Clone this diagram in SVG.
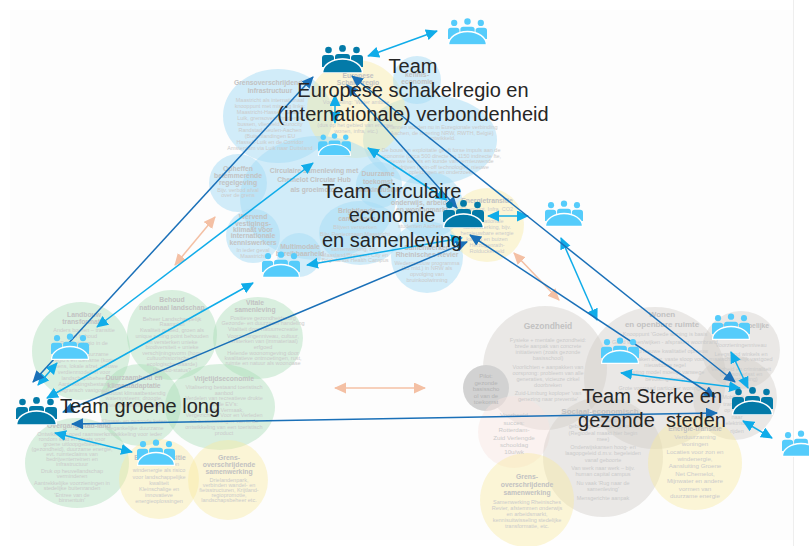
<svg xmlns="http://www.w3.org/2000/svg" width="809" height="546" viewBox="0 0 809 546">
<style>
text{font-family:"Liberation Sans",Arial,sans-serif;text-anchor:middle}
.b{fill:#a5dcf6;fill-opacity:.5}
.g{fill:#a8dcb5;fill-opacity:.42}
.y{fill:#f7e9a0;fill-opacity:.42}
.s{fill:#cfcac5;fill-opacity:.42}
.p{fill:#f9e4df;fill-opacity:.45}
.t{font-size:6.800px;font-weight:bold;fill:#c2c2c2}
.d{font-size:5.500px;fill:#cbcbcb}
.h{font-size:20px;fill:#262626}
.la{fill:none;stroke:#10ace9;stroke-width:1.5;marker-start:url(#al);marker-end:url(#al)}
.da{fill:none;stroke:#1a70b8;stroke-width:1.5;marker-start:url(#ad);marker-end:url(#ad)}
.oa{fill:none;stroke:#f4c0a4;stroke-width:1.5;marker-start:url(#ao);marker-end:url(#ao)}
.dk{fill:#037aa8}
.lt{fill:#55ccfb}
</style>
<defs>
<marker id="al" markerUnits="userSpaceOnUse" markerWidth="14" markerHeight="12" refX="11" refY="5.500" orient="auto-start-reverse"><path d="M0 0L12 5.500L0 11z" fill="#10ace9"/></marker>
<marker id="ad" markerUnits="userSpaceOnUse" markerWidth="14" markerHeight="12" refX="11" refY="5.500" orient="auto-start-reverse"><path d="M0 0L12 5.500L0 11z" fill="#1a70b8"/></marker>
<marker id="ao" markerUnits="userSpaceOnUse" markerWidth="14" markerHeight="12" refX="11" refY="5.500" orient="auto-start-reverse"><path d="M0 0L12 5.500L0 11z" fill="#f4c0a4"/></marker>
<symbol id="team" viewBox="0 0 41 28">
<circle cx="6.500" cy="5" r="3.300"/><circle cx="20.500" cy="3.400" r="3.400"/><circle cx="34.500" cy="5" r="3.300"/>
<path d="M0 22V13q0-3 3-3h6q3 0 3 3v3L3 22z"/>
<path d="M41 22V13q0-3-3-3h-6q-3 0-3 3v3l9 6z"/>
<path d="M13 15v-3q0-3 3-3h9q3 0 3 3v3q-7-3-15 0z"/>
<path d="M0.500 28A20 14 0 0 1 40.500 28z" stroke="#fff" stroke-width="1.400"/>
</symbol>
</defs>
<rect x="10" y="10" width="783" height="530" fill="#fdfdfd"/>
<path d="M793.500 0V546" stroke="#eee" fill="none"/>

<g id="regio-noord">
<ellipse class="b" cx="278" cy="116" rx="55" ry="47"/>
<ellipse class="b" cx="430" cy="140" rx="67" ry="45"/>
<circle class="y" cx="356" cy="109" r="49"/>
<circle class="b" cx="417" cy="80" r="24"/>
<circle class="b" cx="238" cy="183" r="29"/>
<ellipse class="b" cx="318" cy="198" rx="78" ry="62"/>
<circle class="b" cx="253" cy="236" r="27"/>
<circle class="b" cx="299" cy="255" r="22"/>
<circle class="b" cx="379" cy="185" r="23"/>
<ellipse class="b" cx="360" cy="233" rx="41" ry="32"/>
<circle class="b" cx="430" cy="205" r="33"/>
<circle class="b" cx="427" cy="257" r="36"/>
<circle class="y" cx="487" cy="225" r="37"/>
<text class="t"><tspan x="270" y="85">Grensoverschrijdende</tspan><tspan x="270" y="93">infrastructuur</tspan></text>
<text class="d"><tspan x="270" y="102">Maastricht als internationaal</tspan><tspan x="270" y="108">knooppunt met missing links:</tspan><tspan x="270" y="114">Maastricht-Hasselt, Sittard-</tspan><tspan x="270" y="120">Luik, grensoverschrijdende</tspan><tspan x="270" y="126">bussen, vliegveld, Eurocity</tspan><tspan x="270" y="132">Randstad-Keulen-Aachen</tspan><tspan x="270" y="138">(Buitenlandingen EU</tspan><tspan x="270" y="144">Hasselt-Luik en de Corridor</tspan><tspan x="270" y="150">Amsterdam via Luik naar Duitsland</tspan></text>
<text class="t"><tspan x="358" y="78">Europese</tspan><tspan x="358" y="85">Schakelregio</tspan></text>
<text class="d"><tspan x="356" y="104">Voorstelling: 'Water ambitie</tspan><tspan x="356" y="127">(dus op het gebied van energie,</tspan><tspan x="356" y="133">wonen, infra, etc.)</tspan></text>
<text class="t"><tspan x="417" y="77">kennis-</tspan><tspan x="417" y="84">economie</tspan></text>
<text class="d"><tspan x="442" y="129">Plannen worden nu in Euregionale verbinding</tspan><tspan x="442" y="135">Aachen, de regering NRW, RWTH, België)</tspan><tspan x="442" y="140">ontwikkeld.</tspan><tspan x="441" y="152">De bouw en exploitatie geeft forse impuls aan de</tspan><tspan x="441" y="158">economie (circa 500 directe en 1150 indirecte fte,</tspan><tspan x="441" y="163">nieuwe kennis en kunde van vernieuwende</tspan><tspan x="441" y="169">bedrijven (spin-off technologie), nieuwe</tspan><tspan x="441" y="174">opleidingen en onderzoek.</tspan></text>
<text class="t"><tspan x="314" y="173">Circulaire samenleving met</tspan><tspan x="314" y="182">Chemelot Circular Hub</tspan><tspan x="314" y="192">als groeimotor</tspan></text>
<text class="t"><tspan x="238" y="171">Opheffen</tspan><tspan x="238" y="178">belemmerende</tspan><tspan x="238" y="185">regelgeving</tspan></text>
<text class="d"><tspan x="238" y="192">Bijv. verbod afval</tspan><tspan x="238" y="197">over de grens</tspan></text>
<text class="t"><tspan x="253" y="219">Wervend</tspan><tspan x="253" y="226">vestigings-</tspan><tspan x="253" y="232">klimaat voor</tspan><tspan x="253" y="238">internationale</tspan><tspan x="253" y="245">kenniswerkers</tspan></text>
<text class="d"><tspan x="253" y="252">In ieder geval</tspan><tspan x="253" y="258">Maastricht</tspan></text>
<text class="t"><tspan x="300" y="249">Multimodale</tspan><tspan x="300" y="256">bereikbaarheid</tspan></text>
<text class="t"><tspan x="378" y="176">Duurzame</tspan><tspan x="378" y="184">toekomst</tspan><tspan x="378" y="192">maakindustrie</tspan></text>
<text class="t"><tspan x="357" y="213">Brightlands</tspan><tspan x="357" y="221">campussen</tspan></text>
<text class="d"><tspan x="355" y="229">Blijven versterken</tspan><tspan x="355" y="236">Bijv. Regieorgaan Maastricht</tspan><tspan x="355" y="251">samenwerking, bijv.</tspan><tspan x="355" y="257">Maasland/Brainport City en</tspan><tspan x="355" y="262">Brightlands Health Campus</tspan></text>
<text class="t"><tspan x="422" y="205">onderwijs, arbeids-</tspan><tspan x="422" y="212">en woningmarkt</tspan></text>
<text class="d"><tspan x="420" y="228">studenten Aachen</tspan></text>
<text class="t"><tspan x="427" y="250">Samenwerken</tspan><tspan x="427" y="257">Rheinisches Revier</tspan></text>
<text class="d"><tspan x="427" y="265">Wederopbouw programma</tspan><tspan x="427" y="270">(15 mld.) in NRW als</tspan><tspan x="427" y="276">opvolging van</tspan><tspan x="427" y="282">bruinkoolwinning</tspan></text>
<text class="t"><tspan x="487" y="203">Energietransitie</tspan></text>
<text class="d"><tspan x="487" y="211">Chemelot, Infra, CO2</tspan><tspan x="487" y="223">internationale</tspan><tspan x="487" y="229">samenwerking, bijv.</tspan><tspan x="487" y="235">hernieuwbare energie</tspan><tspan x="487" y="241">kabels en buizen</tspan><tspan x="487" y="247">Herzogenrath-</tspan><tspan x="487" y="253">Rolduckerveld</tspan></text>
</g>

<g id="regio-west">
<circle class="g" cx="81" cy="351" r="49"/>
<circle class="g" cx="172" cy="335" r="45"/>
<ellipse class="g" cx="258" cy="338" rx="45" ry="41"/>
<circle class="g" cx="140" cy="405" r="41"/>
<ellipse class="g" cx="220" cy="407" rx="55" ry="43"/>
<ellipse class="g" cx="77" cy="463" rx="52" ry="45"/>
<circle class="y" cx="159" cy="479" r="40"/>
<circle class="y" cx="228" cy="480" r="40"/>
<text class="t"><tspan x="84" y="317">Landbouw</tspan><tspan x="84" y="324">transformatie</tspan></text>
<text class="d"><tspan x="84" y="332">Anders boeren – transitie</tspan><tspan x="84" y="338">en behoud</tspan><tspan x="84" y="345">Proeftuinregio in de</tspan><tspan x="84" y="351">Peel</tspan><tspan x="84" y="356">Stimuleer duurzame</tspan><tspan x="84" y="362">regio's en toerisme (korte</tspan><tspan x="84" y="368">ketens, lokale afzet, nieuwe</tspan><tspan x="84" y="374">verdienmodellen voor</tspan><tspan x="84" y="380">landschapsbeheer</tspan><tspan x="84" y="386">Aantrekkingsbestand</tspan><tspan x="84" y="392">(agrarisch vastgoed)</tspan></text>
<text class="t"><tspan x="172" y="302">Behoud</tspan><tspan x="172" y="310">nationaal landschap</tspan></text>
<text class="d"><tspan x="172" y="321">Beheer Landschappelijk</tspan><tspan x="172" y="326">Raamplan</tspan><tspan x="172" y="332">Kwaliteit gebied, groen als</tspan><tspan x="172" y="338">unique selling point behouden</tspan><tspan x="172" y="344">en versterken unieke</tspan><tspan x="172" y="349">biodiversiteit + unieke</tspan><tspan x="172" y="355">verschijningsvorm (hoge</tspan><tspan x="172" y="360">cultuurhistorische en</tspan><tspan x="172" y="366">ecologische waarde)</tspan><tspan x="172" y="372">Unesco-status?</tspan></text>
<text class="t"><tspan x="255" y="305">Vitale</tspan><tspan x="255" y="312">samenleving</tspan></text>
<text class="d"><tspan x="263" y="320">Positieve gezondheidszorg</tspan><tspan x="263" y="325">Gezonde- en duurzaam handeling</tspan><tspan x="263" y="331">Vitaliteit door natuurrecreatie</tspan><tspan x="263" y="338">Voorzieningenniveau, cultuur,</tspan><tspan x="263" y="343">versterken van (immateriaal)</tspan><tspan x="263" y="349">erfgoed</tspan><tspan x="263" y="355">Helende woonomgeving door</tspan><tspan x="263" y="360">kwalitatieve ontmoetingen, rust,</tspan><tspan x="263" y="365">ruimte en natuur als woonoase</tspan></text>
<text class="t"><tspan x="134" y="380">Duurzaamheid en</tspan><tspan x="134" y="388">klimaatadaptatie</tspan></text>
<text class="d"><tspan x="134" y="395">Robuust klimaatbestendig</tspan><tspan x="134" y="400">watersysteem; droogte,</tspan><tspan x="134" y="407">rivierprogramma Maas</tspan><tspan x="134" y="423">Klimaat- en gezonde keten</tspan><tspan x="134" y="430">Toegankelijke duurzame</tspan><tspan x="134" y="436">ontwikkeling voor ieder</tspan></text>
<text class="t"><tspan x="224" y="381">Vrijetijdseconomie</tspan></text>
<text class="d"><tspan x="224" y="389">Vitalisering bestaand toeristisch</tspan><tspan x="224" y="395">aanbod</tspan><tspan x="224" y="400">Verdelen van recreatieve drukte</tspan><tspan x="224" y="406">op de EV's:</tspan><tspan x="224" y="412">Vaals, Vermaak,</tspan><tspan x="224" y="417">Vergezichten, Voor en Verleden</tspan><tspan x="224" y="423">als bestemmingen van in de</tspan><tspan x="224" y="429">ontwikkeling van een toeristisch</tspan><tspan x="224" y="435">product</tspan></text>
<text class="t"><tspan x="79" y="428">Overgang stad-land</tspan></text>
<text class="d"><tspan x="72" y="436">Ontwikkelen goed raamwerk</tspan><tspan x="72" y="441">rondom stad en plaats voor</tspan><tspan x="72" y="446">groene uitloopgebieden</tspan><tspan x="72" y="451">(gezondheid), duurzame energie,</tspan><tspan x="72" y="456">evt. ruimteclaims van</tspan><tspan x="72" y="461">bedrijventerreinen en</tspan><tspan x="72" y="466">infrastructuur</tspan><tspan x="72" y="473">Druk op heuvellandschap</tspan><tspan x="72" y="478">verminderen</tspan><tspan x="72" y="485">Aantrekkelijke voorzieningen in</tspan><tspan x="72" y="490">stedelijke buitenranden</tspan><tspan x="72" y="497">'Entree van de</tspan><tspan x="72" y="502">binnentuin'</tspan></text>
<text class="t"><tspan x="160" y="460">Energietransitie</tspan></text>
<text class="d"><tspan x="159" y="466">Druk van zon en</tspan><tspan x="159" y="472">windenergie als risico</tspan><tspan x="159" y="479">voor landschappelijke</tspan><tspan x="159" y="485">kwaliteit</tspan><tspan x="159" y="491">Kleinschalige en</tspan><tspan x="159" y="497">innovatieve</tspan><tspan x="159" y="503">energieoplossingen</tspan></text>
<text class="t"><tspan x="229" y="460">Grens-</tspan><tspan x="229" y="467">overschrijdende</tspan><tspan x="229" y="474">samenwerking</tspan></text>
<text class="d"><tspan x="229" y="482">Drielandenpark,</tspan><tspan x="229" y="487">verbinden wandel- en</tspan><tspan x="229" y="492">fietsstructuren, Krijtland-</tspan><tspan x="229" y="497">regiopromotie,</tspan><tspan x="229" y="502">landschapsbeheer etc.</tspan></text>
</g>

<g id="regio-oost">
<circle class="s" cx="545" cy="368" r="62"/>
<circle cx="486" cy="388" r="23" fill="#d2d2d2"/>
<circle class="s" cx="655" cy="378" r="71"/>
<circle class="s" cx="741" cy="350" r="39"/>
<circle class="s" cx="735" cy="398" r="42"/>
<circle class="p" cx="514" cy="432" r="36"/>
<circle class="s" cx="603" cy="457" r="60"/>
<circle class="y" cx="695" cy="463" r="47"/>
<circle class="y" cx="527" cy="500" r="47"/>
<text class="t" style="font-size:8.500px"><tspan x="548" y="329">Gezondheid</tspan></text>
<text class="d"><tspan x="548" y="342">Fysieke + mentale gezondheid:</tspan><tspan x="548" y="348">brede aanpak van concrete</tspan><tspan x="548" y="354">initiatieven (zoals gezonde</tspan><tspan x="548" y="360">basisschool)</tspan><tspan x="548" y="369">Voorlichten + aanpakken van</tspan><tspan x="548" y="375">oorsprong: probleem van alle</tspan><tspan x="548" y="381">generaties, vicieuze cirkel</tspan><tspan x="548" y="387">doorbreken</tspan><tspan x="548" y="395">Zuid-Limburg koploper 'van</tspan><tspan x="548" y="401">genezing naar preventie'</tspan></text>
<text class="d" style="fill:#b4b4b4;font-size:6px"><tspan x="486" y="378">Pilot:</tspan><tspan x="486" y="385">gezonde</tspan><tspan x="486" y="391">basisscho</tspan><tspan x="486" y="398">ol van de</tspan><tspan x="486" y="404">toekomst</tspan></text>
<text class="t" style="font-size:8px"><tspan x="662" y="317">Wonen</tspan><tspan x="662" y="327">en openbare ruimte</tspan></text>
<text class="d"><tspan x="665" y="336">Knooppunt 'Goede woning is basis</tspan><tspan x="665" y="344">Goed wonen/wijken - afspraken woonbrand</tspan><tspan x="665" y="353">Inzet op nieuwe kwalitatief opnieuw</tspan><tspan x="665" y="361">Afspraken over, vaste sloop voor</tspan><tspan x="665" y="367">nieuwbouw regel</tspan><tspan x="665" y="374">Hosting model moeilijk vanwege</tspan><tspan x="665" y="381">bevolkingskrimp</tspan><tspan x="665" y="390">Grote voorraad particulier woningbezit</tspan></text>
<text class="t"><tspan x="741" y="328">Maatschappelijke</tspan><tspan x="741" y="337">infra</tspan></text>
<text class="d"><tspan x="741" y="347">Voorzieningenniveau</tspan><tspan x="741" y="356">Leegstand winkels en</tspan><tspan x="741" y="361">maatschappelijk vastgoed</tspan><tspan x="741" y="371">Veiligheid en criminaliteit</tspan><tspan x="741" y="376">(drugsoverlast en</tspan><tspan x="741" y="381">ondermijning)</tspan></text>
<text class="d"><tspan x="733" y="399">Mobiliteit</tspan><tspan x="733" y="406">transitie</tspan><tspan x="733" y="412">op weg</tspan><tspan x="737" y="419">naar</tspan><tspan x="737" y="425">elektrisch</tspan><tspan x="737" y="433">rijden</tspan></text>
<text class="d" style="font-size:6.200px"><tspan x="514" y="417">Voorbeeld</tspan><tspan x="514" y="425">succes:</tspan><tspan x="514" y="432">Rotterdam-</tspan><tspan x="514" y="440">Zuid Verlengde</tspan><tspan x="514" y="447">schooldag</tspan><tspan x="514" y="454">10u/wk</tspan></text>
<text class="t" style="font-size:8px"><tspan x="600" y="414">Sociaal-economisch</tspan></text>
<text class="d"><tspan x="603" y="422">Integrale aanpak</tspan><tspan x="603" y="428">gebiedsgerichte programma</tspan><tspan x="603" y="435">(Regiodeal maakt hier begin</tspan><tspan x="603" y="441">mee)</tspan><tspan x="603" y="449">Onderwijskansen hoog- en</tspan><tspan x="603" y="455">laagopgeleid d.m.v. begeleiden</tspan><tspan x="603" y="462">vanaf geboorte</tspan><tspan x="603" y="470">Van werk naar werk – bijv.</tspan><tspan x="603" y="476">human capital campus</tspan><tspan x="603" y="485">Nu vaak 'Rug naar de</tspan><tspan x="603" y="491">samenleving'</tspan><tspan x="603" y="500">Mensgerichte aanpak</tspan></text>
<text class="t"><tspan x="695" y="431">Energie-transitie</tspan></text>
<text class="d" style="font-size:6.200px"><tspan x="695" y="439">Verduurzaming</tspan><tspan x="695" y="446">woningen</tspan><tspan x="695" y="454">Locaties voor zon en</tspan><tspan x="695" y="461">windenergie,</tspan><tspan x="695" y="468">Aansluiting Groene</tspan><tspan x="695" y="476">Net Chemelot,</tspan><tspan x="695" y="483">Mijnwater en andere</tspan><tspan x="695" y="491">vormen van</tspan><tspan x="695" y="498">duurzame energie</tspan></text>
<text class="t"><tspan x="527" y="479">Grens-</tspan><tspan x="527" y="487">overschrijdende</tspan><tspan x="527" y="495">samenwerking</tspan></text>
<text class="d"><tspan x="527" y="504">Samenwerking Rheinisches</tspan><tspan x="527" y="510">Revier, afstemmen onderwijs</tspan><tspan x="527" y="516">en arbeidsmarkt,</tspan><tspan x="527" y="522">kennisuitwisseling stedelijke</tspan><tspan x="527" y="528">transformatie, etc.</tspan></text>
</g>

<g id="connectors">
<path class="oa" d="M215 217L175 265"/>
<path class="oa" d="M514 253L559 300"/>
<path class="oa" d="M335 388L425 388"/>
<path class="la" d="M368 56L437 31"/>
<path class="la" d="M335 95L335 123"/>
<path class="la" d="M368 148L447 200"/>
<path class="la" d="M488 216L528 216"/>
<path class="la" d="M561 238L597 320"/>
<path class="la" d="M97 327L313 163"/>
<path class="la" d="M47 398L253 283"/>
<path class="la" d="M307 265L462 238"/>
<path class="la" d="M38 385L57 363"/>
<path class="la" d="M621 373L740 388"/>
<path class="la" d="M731 352L748 388"/>
<path class="la" d="M743 421L772 438"/>
<path class="la" d="M55 433L132 452"/>
<path class="da" d="M33 382L313 77"/>
<path class="da" d="M63 412L467 242"/>
<path class="da" d="M347 85L457 208"/>
<path class="da" d="M352 76L735 382"/>
<path class="da" d="M470 235L715 397"/>
<path class="da" d="M72 424L717 413"/>
</g>

<g id="team-europese"><use href="#team" class="dk" x="322" y="45" width="41" height="28"/><text class="h"><tspan x="413" y="73">Team</tspan><tspan x="413" y="97">Europese schakelregio en</tspan><tspan x="413" y="121">(internationale) verbondenheid</tspan></text></g>
<g id="team-circulair"><use href="#team" class="dk" x="443" y="200" width="41" height="28"/><text class="h"><tspan x="392" y="198">Team Circulaire</tspan><tspan x="392" y="222">economie</tspan><tspan x="392" y="247">en samenleving</tspan></text></g>
<g id="team-groene-long"><use href="#team" class="dk" x="16" y="397" width="41" height="28"/><text class="h" x="140" y="413">Team groene long</text></g>
<g id="team-sterke-steden"><use href="#team" class="dk" x="732" y="387" width="41" height="28"/><text class="h"><tspan x="652" y="403">Team Sterke en</tspan><tspan x="652" y="427">gezonde&#160; steden</tspan></text></g>
<g id="sub-team-1"><use href="#team" class="lt" x="448" y="18" width="39" height="27"/></g>
<g id="sub-team-2"><use href="#team" class="lt" x="318" y="133" width="33" height="23"/></g>
<g id="sub-team-3"><use href="#team" class="lt" x="262" y="251" width="38" height="27"/></g>
<g id="sub-team-4"><use href="#team" class="lt" x="545" y="200" width="38" height="27"/></g>
<g id="sub-team-5"><use href="#team" class="lt" x="51" y="333" width="38" height="27"/></g>
<g id="sub-team-6"><use href="#team" class="lt" x="137" y="439" width="38" height="27"/></g>
<g id="sub-team-7"><use href="#team" class="lt" x="601" y="337" width="38" height="27"/></g>
<g id="sub-team-8"><use href="#team" class="lt" x="712" y="313" width="38" height="27"/></g>
<g id="sub-team-9"><use href="#team" class="lt" x="782" y="430" width="38" height="27"/></g>
</svg>
